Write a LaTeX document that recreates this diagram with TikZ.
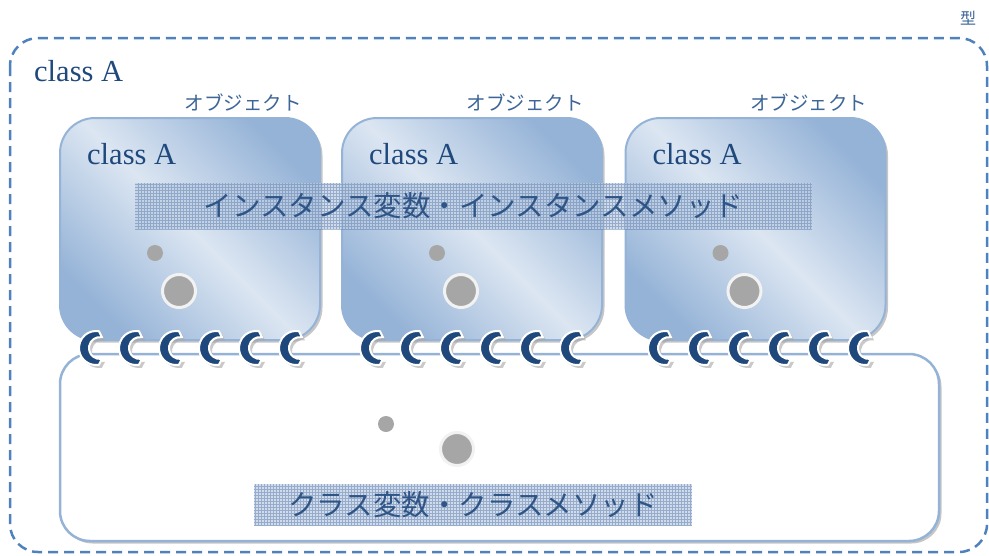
\documentclass[tikz,border=0pt]{standalone}
\usepackage{fontspec}
\newfontfamily\jp{Noto Sans CJK JP}
\newfontfamily\serifA{Liberation Serif}
\usetikzlibrary{shadows}
\definecolor{dashblue}{HTML}{4F81BD}
\definecolor{boxdark}{HTML}{95B3D7}
\definecolor{boxlight}{HTML}{DCE6F2}
\definecolor{txtblue}{HTML}{1F497D}
\definecolor{lbltxt}{HTML}{3D6597}
\definecolor{ringblue}{HTML}{1F497D}
\definecolor{dotgray}{HTML}{A6A6A6}
\definecolor{ringwhite}{HTML}{F2F2F2}
\definecolor{bannerc}{HTML}{BDCDE3}
\definecolor{gridc}{HTML}{5F7FAD}
\definecolor{bannertxt}{HTML}{2F5586}
\tikzset{
  objbox/.style={draw=boxdark, line width=2pt, rounded corners=35pt,
    minimum width=260pt, minimum height=222pt, inner sep=0pt,
    top color=boxdark, bottom color=boxdark, middle color=boxlight, shading angle=-45,
    drop shadow={shadow xshift=2.5pt, shadow yshift=-2.5pt, fill=gray, opacity=0.45}},
  classbox/.style={draw=boxdark, line width=2.5pt, rounded corners=30pt, fill=white,
    minimum width=879pt, minimum height=187pt, inner sep=0pt,
    drop shadow={shadow xshift=2.5pt, shadow yshift=-2.5pt, fill=gray, opacity=0.45}},
  banner/.style={fill=bannerc, fill opacity=0.7, text opacity=1, inner sep=0pt,
    path picture={\draw[gridc, draw opacity=0.5, line width=0.6pt, step=3pt]
      (path picture bounding box.south west) grid (path picture bounding box.north east);},
    text=bannertxt, font=\jp\fontsize{28.5}{30}\selectfont},
  objlabel/.style={text=lbltxt, font=\jp\fontsize{19.5}{21}\selectfont, inner sep=0pt},
  classlabel/.style={text=txtblue, font=\serifA\fontsize{30.5}{33}\selectfont, inner sep=0pt, anchor=west},
  smalldot/.style={circle, fill=dotgray, minimum size=16pt, inner sep=0pt},
  bigdot/.style={circle, fill=dotgray, draw=ringwhite, line width=3pt, minimum size=33pt, inner sep=0pt},
  ring/.pic={
    \fill[gray!70, opacity=0.6] (3,3) ++(80:17) arc[start angle=80, end angle=280, radius=17]
       -- ++(3,6) arc[start angle=-80, end angle=-280, radius=11] -- cycle;
    \filldraw[fill=ringblue, draw=white, line width=2pt] (80:17) arc[start angle=80, end angle=280, radius=17]
       -- (5.9,-10.8) arc[start angle=-80, end angle=-280, radius=11] -- cycle;
  }
}
\begin{document}
\begin{tikzpicture}[x=1pt,y=-1pt]
\useasboundingbox (0,0) rectangle (989,555);
% outer type boundary
\draw[dashblue, line width=2.5pt, dash pattern=on 10pt off 6pt, rounded corners=28pt]
  (10,38) rectangle (987,552);
\node[text=lbltxt, font=\jp\fontsize{16}{18}\selectfont, inner sep=0pt] (kata) at (968,18) {型};
\node[classlabel] (outerlbl) at (34,71) {class A};
% class area
\node[classbox] (cls) at (499.5,447.5) {};
\node[smalldot] (cd1) at (386,424) {};
\node[bigdot] (cd2) at (457,449) {};
% objects
\node[objbox] (o1) at (190,229) {};
\node[objbox] (o2) at (472,229) {};
\node[objbox] (o3) at (755.5,229) {};
\foreach \n/\cx in {o1/190,o2/472,o3/755.5}{
  \node[objlabel] (\n lbl) at (\cx+53,103) {オブジェクト};
  \node[classlabel] (\n cls) at (\cx-103,154) {class A};
  \node[smalldot] (\n d1) at (\cx-35,253) {};
  \node[bigdot] (\n d2) at (\cx-11,291) {};
}
% banners
\node[banner, minimum width=677pt, minimum height=46pt] (b1) at (473.5,206)
  {インスタンス変数・インスタンスメソッド};
\node[banner, minimum width=438pt, minimum height=42pt] (b2) at (473,505)
  {クラス変数・クラスメソッド};
% rings
\foreach \x in {96,136,176,216,256,296,377,417,457,497,537,577,665,705,745,785,825,865}{
  \pic at (\x,348) {ring};
}
\end{tikzpicture}
\end{document}
